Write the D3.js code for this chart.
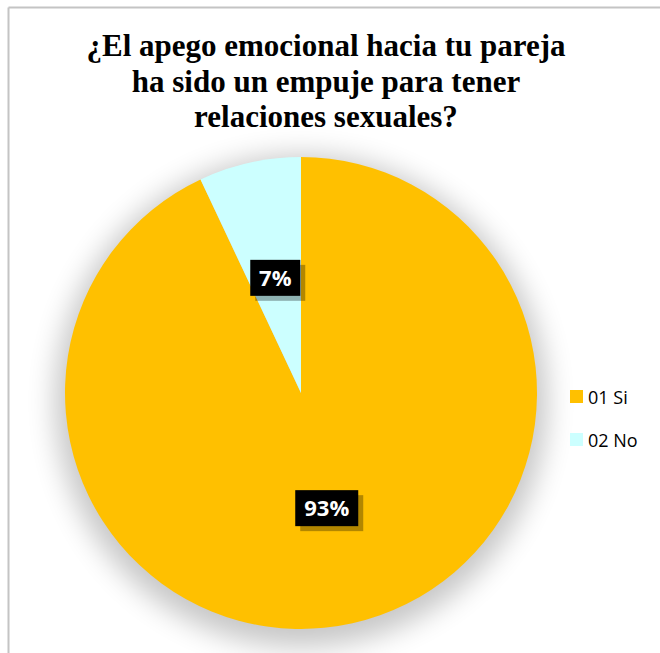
<!DOCTYPE html>
<html>
<head>
<meta charset="utf-8">
<script src="https://cdn.jsdelivr.net/npm/d3@7"></script>
<style>
  html, body { margin: 0; padding: 0; background: #fff; }
  svg { display: block; }
  .title { font-family: "Liberation Serif", "Nimbus Roman", "Nimbus Roman No9 L", "FreeSerif", "Times", "DejaVu Serif", "Noto Serif", serif; }
</style>
</head>
<body>
<svg id="chart" width="660" height="653"></svg>
<script>
// Survey answers and their shares (%)
const categories = ["01 Si", "02 No"];
const values = [93, 7];
const labels = ["93%", "7%"];
const colors = ["#FFC000", "#CCFFFF"];
const titleLines = [
  "¿El apego emocional hacia tu pareja",
  "ha sido un empuje para tener",
  "relaciones sexuales?"
];

const svg = d3.select("#chart");
const W = 660, H = 653;

// Chart area frame (top and left edges visible)
svg.append("line").attr("x1", 8.5).attr("y1", 7.5).attr("x2", W).attr("y2", 7.5)
  .attr("stroke", "#c4c4c4").attr("stroke-width", 2);
svg.append("line").attr("x1", 8.5).attr("y1", 7.5).attr("x2", 8.5).attr("y2", H)
  .attr("stroke", "#c4c4c4").attr("stroke-width", 2);

// Title
const title = svg.append("text")
  .attr("class", "title")
  .attr("text-anchor", "middle")
  .style("font-weight", "700")
  .attr("font-size", 31)
  .attr("fill", "#000");
titleLines.forEach((t, i) => {
  title.append("tspan").attr("x", 326).attr("y", 56 + i * 35.5).text(t);
});

// Filters: soft pie shadow
const defs = svg.append("defs");
const blur = defs.append("filter").attr("id", "pieShadow")
  .attr("x", "-30%").attr("y", "-30%").attr("width", "160%").attr("height", "160%");
blur.append("feGaussianBlur").attr("stdDeviation", 14);

const cx = 301, cy = 393, r = 236;
const g = svg.append("g").attr("transform", `translate(${cx},${cy})`);

g.append("circle")
  .attr("cx", 0).attr("cy", 8).attr("r", r + 10)
  .attr("fill", "#000").attr("opacity", 0.22)
  .attr("filter", "url(#pieShadow)");

const pie = d3.pie().sort(null).value(d => d.value);
const arc = d3.arc().innerRadius(0).outerRadius(r);
const data = categories.map((c, i) => ({ name: c, value: values[i], label: labels[i], color: colors[i] }));
const arcs = pie(data);

g.selectAll("path.slice").data(arcs).join("path")
  .attr("class", "slice")
  .attr("d", arc)
  .attr("fill", d => d.data.color);

// Data labels: white bold text on black boxes with a drop shadow
const lab = g.selectAll("g.lab").data(arcs).join("g")
  .attr("class", "lab")
  .attr("transform", d => { const c = arc.centroid(d); return `translate(${c[0]},${c[1]})`; });

lab.each(function(d) {
  const sel = d3.select(this);
  const bw = d.data.label.length * 13 + 24, bh = 36;
  sel.append("rect").attr("x", -bw / 2 + 5).attr("y", -bh / 2 + 5)
    .attr("width", bw).attr("height", bh).attr("fill", "#000").attr("opacity", 0.3);
  sel.append("rect").attr("x", -bw / 2).attr("y", -bh / 2)
    .attr("width", bw).attr("height", bh).attr("fill", "#000");
  sel.append("text")
    .attr("text-anchor", "middle").attr("dy", "0.36em")
    .attr("font-family", "'Open Sans', Lato, sans-serif")
    .attr("font-weight", "bold").attr("font-size", 22)
    .attr("fill", "#fff").text(d.data.label);
});

// Legend
const legend = svg.append("g").attr("transform", "translate(570,390)");
const items = legend.selectAll("g").data(data).join("g")
  .attr("transform", (d, i) => `translate(0,${i * 43})`);
items.append("rect").attr("width", 13).attr("height", 13).attr("fill", d => d.color);
items.append("text").attr("x", 18).attr("y", 13.5)
  .attr("font-family", "'Open Sans', Lato, sans-serif")
  .attr("font-size", 18).attr("fill", "#000")
  .text(d => d.name);
</script>
</body>
</html>
